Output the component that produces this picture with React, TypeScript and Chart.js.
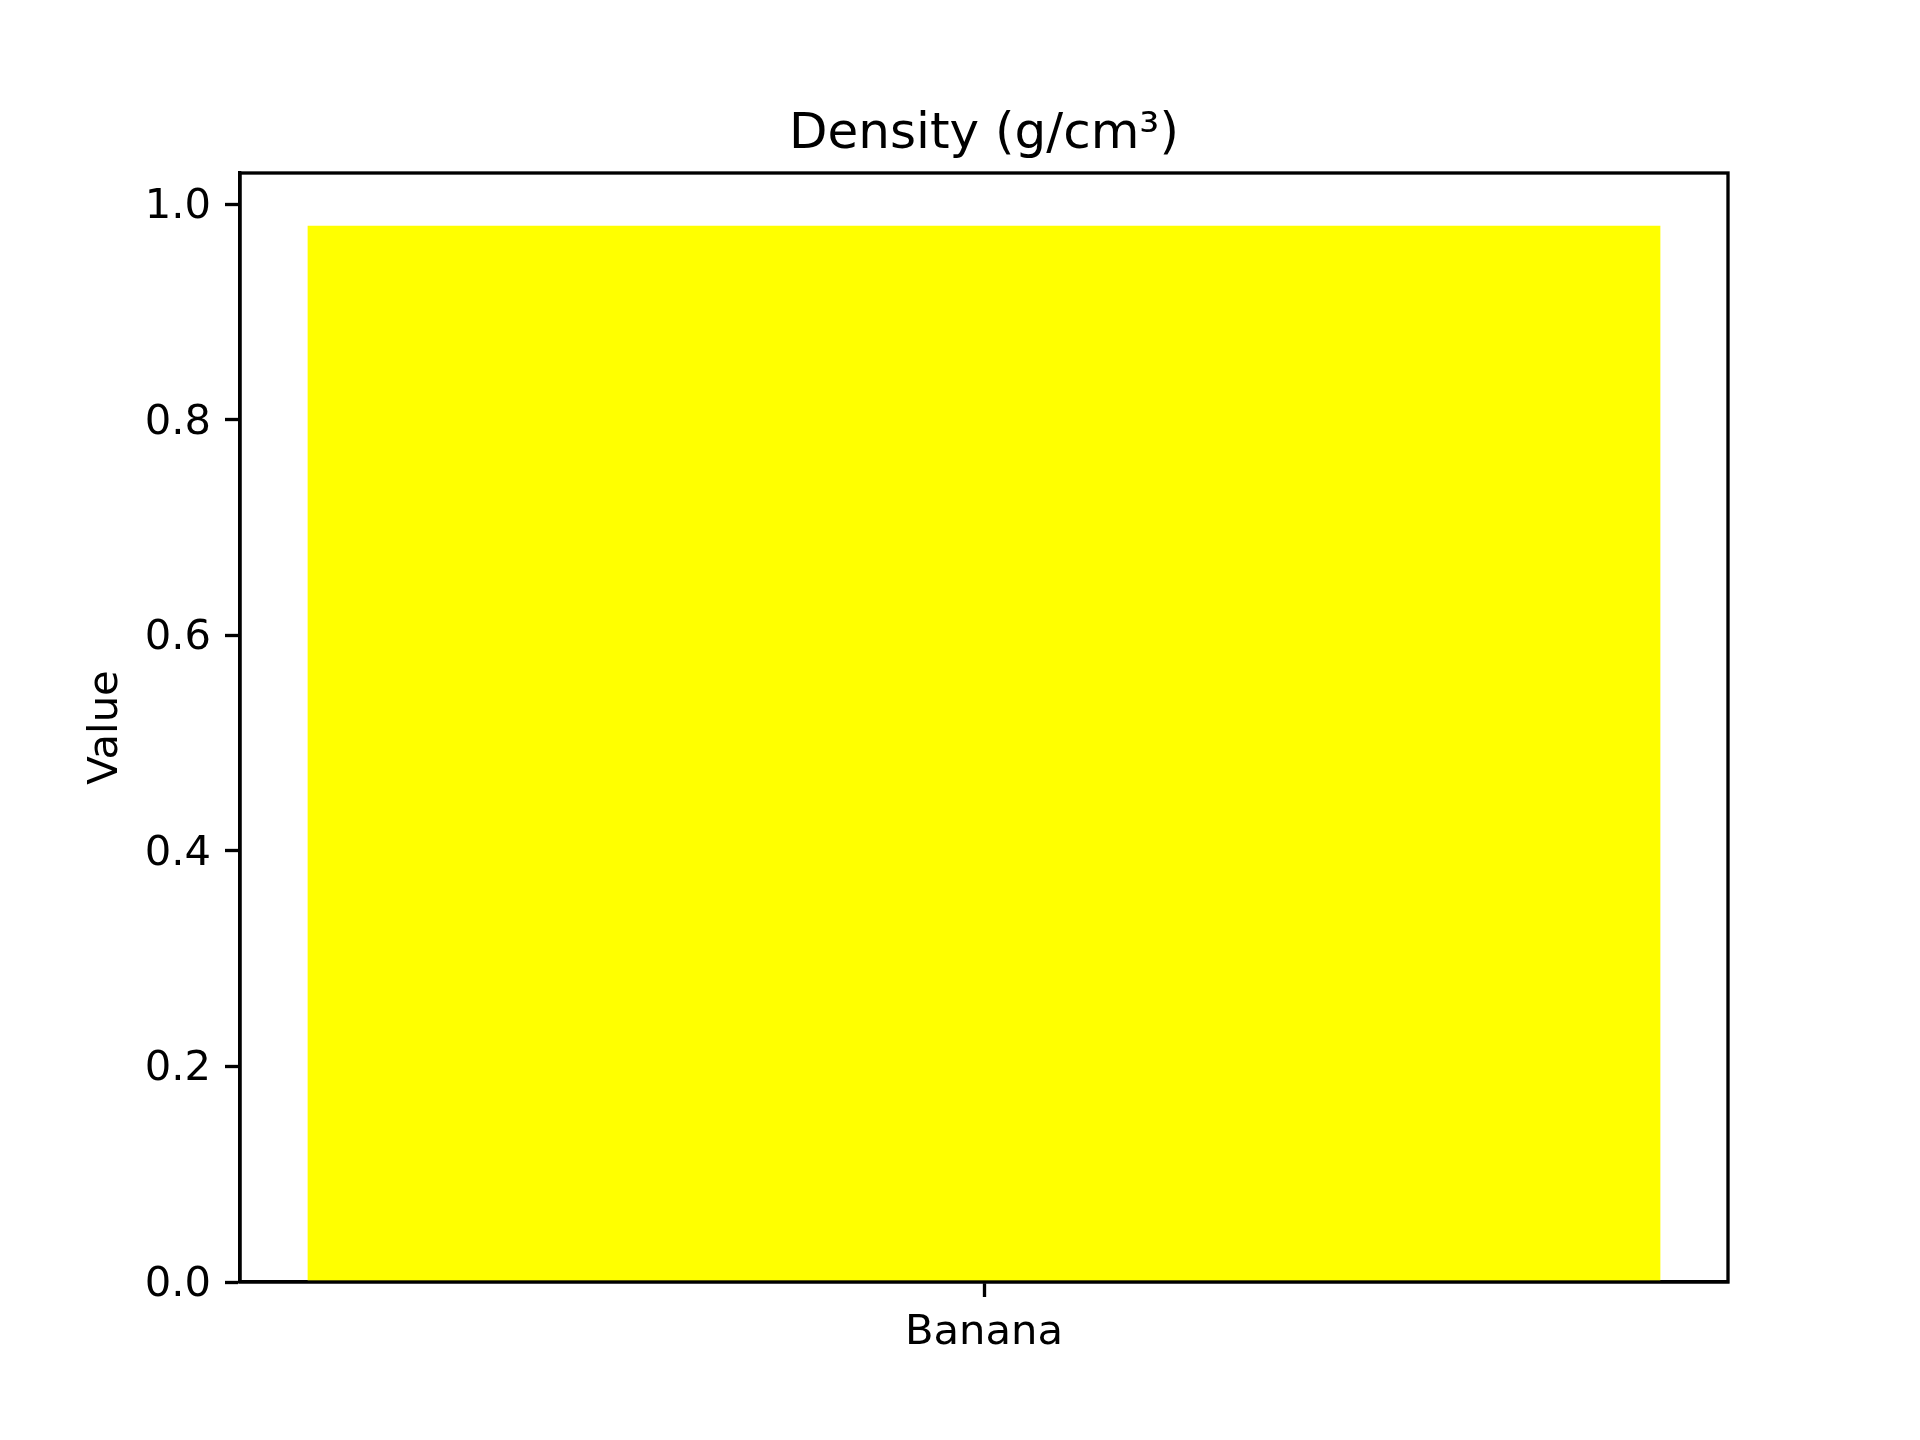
import React, { useEffect, useRef } from "react";
import { Chart, registerables } from "chart.js";

Chart.register(...registerables);

const categories = ["Banana"];
const densityValues = [0.98];
const yTickValues = [0, 0.2, 0.4, 0.6, 0.8, 1.0];
const titleText = "Density (g/cm³)";
const yAxisLabel = "Value";

const FONT = "'DejaVu Sans', 'Liberation Sans', sans-serif";
const LW = 3.33;

const framePlugin = {
  id: "frame",
  afterDatasetsDraw(chart: any) {
    const { ctx, chartArea } = chart;
    ctx.save();
    ctx.strokeStyle = "#000000";
    ctx.lineWidth = LW;
    ctx.strokeRect(
      chartArea.left,
      chartArea.top,
      chartArea.right - chartArea.left,
      chartArea.bottom - chartArea.top
    );
    ctx.restore();
  },
};

export default function App() {
  const ref = useRef<HTMLCanvasElement | null>(null);

  useEffect(() => {
    if (!ref.current) return;
    const yMax = Math.max(...densityValues) * 1.05;
    const chart = new Chart(ref.current, {
      type: "bar",
      data: {
        labels: categories,
        datasets: [
          {
            label: titleText,
            data: densityValues,
            backgroundColor: "#ffff00",
            borderWidth: 0,
            barPercentage: 0.8 / 0.88,
            categoryPercentage: 1,
          },
        ],
      },
      options: {
        responsive: false,
        animation: false,
        devicePixelRatio: 1,
        layout: { padding: { left: 0, top: 0, right: 192, bottom: 0 } },
        plugins: {
          legend: { display: false },
          tooltip: { enabled: false },
          title: {
            display: true,
            fullSize: false,
            text: titleText,
            color: "#000000",
            font: { family: FONT, size: 50, weight: "normal", lineHeight: 1.2 },
            padding: { top: 105, bottom: 8 },
          },
        },
        scales: {
          x: {
            type: "category",
            offset: true,
            grid: {
              display: true,
              offset: false,
              drawOnChartArea: false,
              drawTicks: true,
              tickLength: 15,
              tickWidth: LW,
              tickColor: "#000000",
            },
            border: { display: true, color: "#000000", width: LW },
            ticks: {
              color: "#000000",
              font: { family: FONT, size: 41.7 },
              padding: 11,
              maxRotation: 0,
            },
            afterFit(scale: any) {
              scale.height = 158;
            },
          },
          y: {
            type: "linear",
            min: 0,
            max: yMax,
            grid: {
              display: true,
              drawOnChartArea: false,
              drawTicks: true,
              tickLength: 15,
              tickWidth: LW,
              tickColor: "#000000",
            },
            border: { display: true, color: "#000000", width: LW },
            ticks: {
              color: "#000000",
              font: { family: FONT, size: 41.7 },
              padding: 14,
              labelOffset: 3,
              callback: (v: any) => Number(v).toFixed(1),
            },
            afterBuildTicks(scale: any) {
              scale.ticks = yTickValues.map((v) => ({ value: v }));
            },
            title: {
              display: true,
              text: yAxisLabel,
              color: "#000000",
              font: { family: FONT, size: 41.7, lineHeight: 1.2 },
              padding: { top: 81, bottom: 0 },
            },
            afterFit(scale: any) {
              scale.width = 240;
            },
          },
        },
      },
      plugins: [framePlugin],
    });
    return () => chart.destroy();
  }, []);

  return (
    <div style={{ position: "absolute", left: 0, top: 0, width: 1920, height: 1440, background: "#ffffff" }}>
      <canvas ref={ref} width={1920} height={1440} style={{ display: "block", width: 1920, height: 1440 }} />
    </div>
  );
}
